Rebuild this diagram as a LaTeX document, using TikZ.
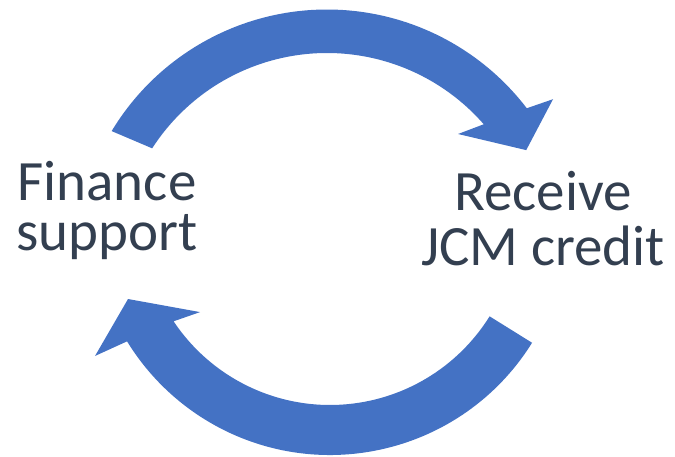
\documentclass[tikz,border=0pt]{standalone}
\usepackage{fontspec}
\setmainfont{Carlito}
\definecolor{arrowblue}{HTML}{4472C4}
\definecolor{textslate}{HTML}{333F50}

\begin{document}
\begin{tikzpicture}[x=1pt,y=1pt,
    cyclearrow/.style={fill=arrowblue},
    steptext/.style={text=textslate,align=center,anchor=base}]
      % \draw[help lines](0,0) grid[step=50] (675,456);

      % Bounding box
      \path[use as bounding box] (0,0) rectangle (675,456);

      \coordinate (topcenter) at (327,195);
      \coordinate (botcenter) at (330,239);

      \draw (107,206) node (finance)[steptext,font=\fontsize{57}{50}\selectfont] {Finance\\support};
      \draw (543,191) node (receive)[steptext,font=\fontsize{57}{55}\selectfont] {Receive\\JCM credit};

      % upper arrow, left to right
      \fill[cyclearrow,shift={(topcenter)}] (148.9:251.5)
        arc[start angle=148.9,end angle=37.4,radius=251.5]
        -- (35.6:278) -- (29.1:228) -- (44.1:182.5) -- (41.1:208)
        arc[start angle=41.1,end angle=147.2,radius=208] -- cycle;

      % lower arrow, right to left
      \fill[cyclearrow,shift={(botcenter)}] (-31.9:238)
        arc[start angle=-31.9,end angle=-148.5,radius=238]
        -- (-149.4:273) -- (-157.9:218) -- (-143.8:161) -- (-146.3:188)
        arc[start angle=-146.3,end angle=-31.9,radius=188] -- cycle;
    \end{tikzpicture}
\end{document}
